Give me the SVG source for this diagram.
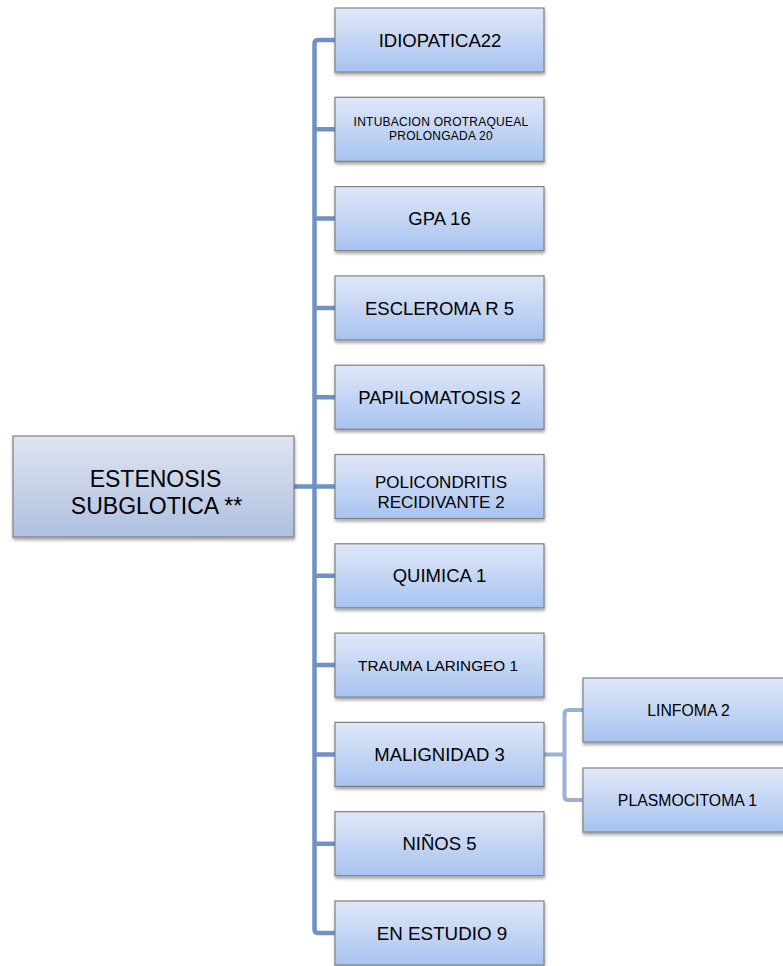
<svg xmlns="http://www.w3.org/2000/svg" width="783" height="966" viewBox="0 0 783 966">
<defs>
<linearGradient id="gBox" x1="0" y1="0" x2="0" y2="1">
<stop offset="0" stop-color="#e0e8f8"/>
<stop offset="1" stop-color="#a8c3f0"/>
</linearGradient>
<linearGradient id="gMain" x1="0" y1="0" x2="0" y2="1">
<stop offset="0" stop-color="#dfe5f1"/>
<stop offset="1" stop-color="#b0c0e0"/>
</linearGradient>
<filter id="sh" x="-10%" y="-10%" width="120%" height="130%">
<feDropShadow dx="0.5" dy="2.5" stdDeviation="1.6" flood-color="#000" flood-opacity="0.35"/>
</filter>
</defs>
<style>
.box{fill:url(#gBox);stroke:#808080;stroke-width:1.2;filter:url(#sh)}
.main{fill:url(#gMain);stroke:#808080;stroke-width:1.2;filter:url(#sh)}
.t{font-family:"Liberation Sans",Arial,sans-serif;fill:#000;text-anchor:middle}
.c1{fill:none;stroke:#6f91c7;stroke-width:4.5;stroke-linejoin:round}
.c2{fill:none;stroke:#9cb1d7;stroke-width:4;stroke-linejoin:round}
</style>
<rect width="783" height="966" fill="#fff"/>
<g id="connectors">
<path class="c1" d="M335,40 H318 Q314.5,40 314.5,44 V929 Q314.5,933 318,933 H335"/>
<path class="c1" d="M294,486.5 H335"/>
<path class="c1" d="M314.5,129.3 H335 M314.5,218.6 H335 M314.5,307.9 H335 M314.5,397.2 H335 M314.5,575.8 H335 M314.5,665.1 H335 M314.5,754.4 H335 M314.5,843.7 H335"/>
<path class="c2" d="M544,754.4 H564.5 M583,710 H568 Q564.5,710 564.5,714 V796 Q564.5,800 568,800 H583"/>
</g>
<g id="n-main"><rect class="main" x="13" y="436" width="281" height="101"/>
<text class="t" font-size="23" x="155.5" y="487">ESTENOSIS</text>
<text class="t" font-size="23" x="156.5" y="513.5">SUBGLOTICA **</text></g>
<g id="n-idiopatica"><rect class="box" x="335" y="8" width="209" height="64"/><text class="t" font-size="18.5" x="440" y="46.6">IDIOPATICA22</text></g>
<g id="n-intubacion"><rect class="box" x="335" y="97.3" width="209" height="64"/><text class="t" font-size="12" x="441" y="125.5" letter-spacing="0.25">INTUBACION OROTRAQUEAL</text><text class="t" font-size="12" x="441" y="139.5" letter-spacing="0.25">PROLONGADA 20</text></g>
<g id="n-gpa"><rect class="box" x="335" y="186.6" width="209" height="64"/><text class="t" font-size="18.5" x="439.5" y="225.2">GPA 16</text></g>
<g id="n-escleroma"><rect class="box" x="335" y="275.9" width="209" height="64"/><text class="t" font-size="18.5" x="439.5" y="314.5">ESCLEROMA R 5</text></g>
<g id="n-papilomatosis"><rect class="box" x="335" y="365.2" width="209" height="64"/><text class="t" font-size="18.5" x="439.5" y="403.8">PAPILOMATOSIS 2</text></g>
<g id="n-policondritis"><rect class="box" x="335" y="454.5" width="209" height="64"/><text class="t" font-size="17" x="441" y="487.5">POLICONDRITIS</text><text class="t" font-size="17" x="441" y="507.5">RECIDIVANTE 2</text></g>
<g id="n-quimica"><rect class="box" x="335" y="543.8" width="209" height="64"/><text class="t" font-size="18.5" x="439.5" y="582.4">QUIMICA 1</text></g>
<g id="n-trauma"><rect class="box" x="335" y="633.1" width="209" height="64"/><text class="t" font-size="15.3" x="438" y="670.6">TRAUMA LARINGEO 1</text></g>
<g id="n-malignidad"><rect class="box" x="335" y="722.4" width="209" height="64"/><text class="t" font-size="18.5" x="439.5" y="761.3">MALIGNIDAD 3</text></g>
<g id="n-ninos"><rect class="box" x="335" y="811.7" width="209" height="64"/><text class="t" font-size="18.5" x="439.5" y="850.3">NIÑOS 5</text></g>
<g id="n-estudio"><rect class="box" x="335" y="901" width="209" height="64"/><text class="t" font-size="18.8" x="442" y="939.7">EN ESTUDIO 9</text></g>
<g id="n-linfoma"><rect class="box" x="583" y="678" width="211" height="64"/><text class="t" font-size="15.8" x="688.5" y="715.6">LINFOMA 2</text></g>
<g id="n-plasmocitoma"><rect class="box" x="583" y="768" width="211" height="64"/><text class="t" font-size="15.8" x="687.5" y="805.6">PLASMOCITOMA 1</text></g>
</svg>
